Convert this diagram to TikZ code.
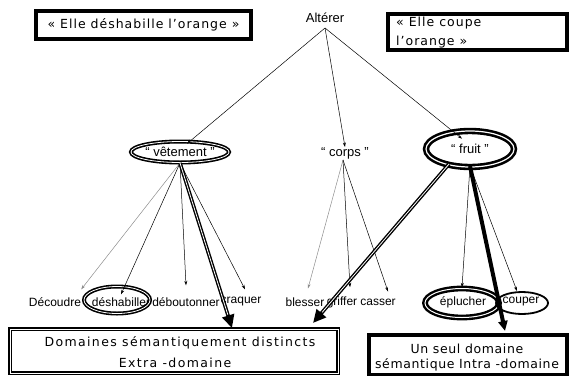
\documentclass[tikz,border=0pt]{standalone}
\usepackage{fontspec}
\setmainfont{Liberation Sans}
\newfontfamily\boxfont{DejaVu Sans}[LetterSpace=8]
\newfontfamily\boxfontw{DejaVu Sans}[LetterSpace=11]
\newfontfamily\boxfontn{DejaVu Sans}[LetterSpace=5]
\usetikzlibrary{shapes.geometric,arrows.meta}
\tikzset{
  lab/.style={font=\fontsize{12}{14}\selectfont, inner sep=0pt},
  mid/.style={font=\fontsize{13}{15}\selectfont, inner sep=0pt},
  bx/.style={font=\boxfont\fontsize{12.5}{19}\selectfont, inner sep=0pt},
  bxw/.style={font=\boxfontw\fontsize{12.5}{19}\selectfont, inner sep=0pt},
  bxn/.style={font=\boxfontn\fontsize{12.5}{19}\selectfont, inner sep=0pt},
  thin/.style={line width=0.5pt, -{Stealth[length=4.5pt,width=3pt]}},
  greythin/.style={thin, draw=black!45},
  bigarrow/.style={line width=3.6pt, -{Triangle[length=13pt,width=12pt]}},
  whitecore/.style={draw=white, line width=0.8pt},
}
\begin{document}
\begin{tikzpicture}[x=1pt,y=1pt]
\useasboundingbox (0,0) rectangle (572,-375);
% top boxes
\draw[line width=3.6pt] (36,-11) rectangle (251,-39);
\node[bx] (box1) at (143.5,-25) {« Elle déshabille l’orange »};
\draw[line width=3.2pt] (388,-14) rectangle (567,-50);
\node[bx, align=left, anchor=north west] (box2) at (396,-17) {« Elle coupe\\l’orange »};
\node[mid] (alt) at (325,-18) {Altérer};
% middle nodes
\node[ellipse, draw, line width=1.6pt, double, double distance=0.8pt, minimum width=88pt, minimum height=21pt, inner sep=0pt, mid] (vet) at (180,-152) {“ vêtement ”};
\node[mid] (corps) at (345,-153) {“ corps ”};
\node[ellipse, draw, line width=2.6pt, double, double distance=1.2pt, minimum width=88pt, minimum height=36pt, inner sep=0pt, mid] (fruit) at (470,-149) {“ fruit ”};
% leaves
\node[lab] (dec) at (55,-302) {Découdre};
\node[lab] (desh) at (121,-302) {déshabiller};
\node[ellipse, draw, line width=1.6pt, double, double distance=0.8pt, minimum width=66pt, minimum height=27pt, inner sep=0pt] (deshring) at (117,-300) {};
\node[lab] (debo) at (186,-302) {déboutonner};
\node[lab] (craq) at (241,-302) {craquer};
\node[lab] (bles) at (305,-302) {blesser};
\node[lab] (grif) at (342,-302) {griffer};
\node[lab] (cass) at (378,-302) {casser};
\node[lab] (eplu) at (463,-302) {éplucher};
\node[lab] (coup) at (521,-302) {couper};
\node[ellipse, draw, line width=2.4pt, double, double distance=1pt, minimum width=74pt, minimum height=29pt, inner sep=0pt] (eplring) at (462,-303) {};
\node[ellipse, draw, line width=1.8pt, minimum width=52pt, minimum height=22pt, inner sep=0pt] (coupring) at (522,-303) {};
% bottom boxes
\draw[line width=1.4pt, double, double distance=1pt] (10,-329) rectangle (338,-373);
\node[bxw] (box3a) at (180,-343) {Domaines sémantiquement distincts};
\node[bxw] (box3b) at (175,-363) {Extra -domaine};
\coordinate (b3v) at (232,-328);
\coordinate (b3f) at (313,-323);
\draw[line width=3.2pt] (369,-335) rectangle (567,-375);
\node[bxn] (box4a) at (467,-349) {Un seul domaine};
\node[bxn] (box4b) at (467,-365) {sémantique Intra -domaine};
\coordinate (b4) at (505,-331);
% connectors from Alterer
\coordinate (altb) at (325,-28);
\draw[thin] (altb) -- ([xshift=7pt,yshift=-3pt]vet.north);
\draw[thin] (altb) -- (corps.north);
\draw[thin] (altb) -- ([xshift=-8pt,yshift=-9pt]fruit.north);
% vetement
\coordinate (vb) at (180,-163);
\draw[greythin] (vb) -- ([yshift=8pt]dec.north east);
\draw[thin] (vb) -- ([yshift=3pt]desh.north);
\draw[thin] (vb) -- ([yshift=12pt]debo.north);
\draw[thin] (vb) -- ([xshift=4pt,yshift=8pt]craq.north);
\draw[bigarrow] (vb) -- (b3v);
\draw[whitecore, shorten >=14pt] (vb) -- (b3v);
% corps
\coordinate (cb) at (343,-160);
\draw[greythin] (cb) -- ([xshift=3pt,yshift=9pt]bles.north);
\draw[thin] (cb) -- ([xshift=8pt,yshift=9pt]grif.north);
\draw[thin] (cb) -- ([xshift=10pt,yshift=7pt]cass.north);
% fruit
\coordinate (fb) at (470,-166);
\coordinate (fl) at (449,-164);
\draw[thin] (fb) -- (eplring.north);
\draw[thin] (fb) -- ([xshift=-5pt]coupring.north);
\draw[line width=4pt, -{Triangle[length=10pt,width=9pt]}] (fb) -- (b4);
\draw[bigarrow] (fl) -- (b3f);
\draw[whitecore, shorten >=14pt] (fl) -- (b3f);
\end{tikzpicture}
\end{document}
